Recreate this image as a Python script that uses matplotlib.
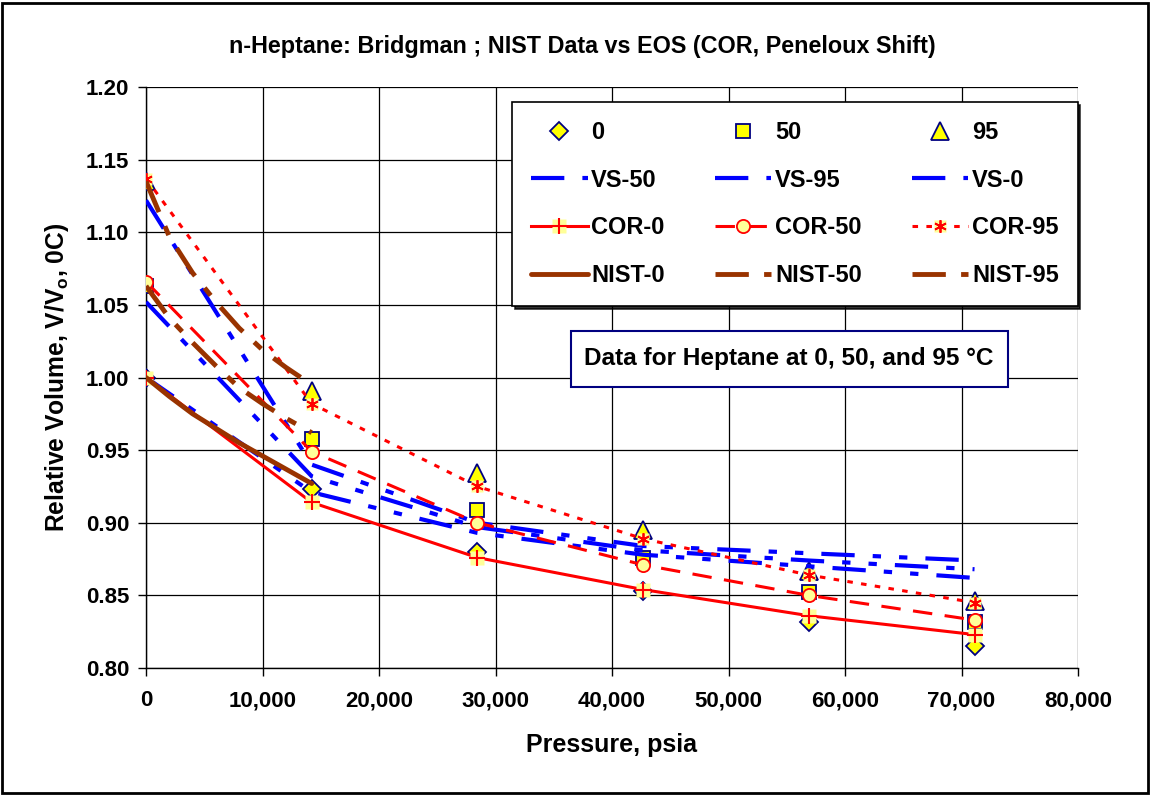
import matplotlib
matplotlib.use('Agg')
import matplotlib.pyplot as plt
from matplotlib.patches import Rectangle
from matplotlib.ticker import FuncFormatter, MultipleLocator
from matplotlib.legend_handler import HandlerTuple

plt.rcParams['font.family'] = ['Liberation Sans', 'DejaVu Sans']
plt.rcParams['font.weight'] = 'bold'
plt.rcParams['lines.scale_dashes'] = False

# ---------------- data ----------------
pressure = [0, 14223, 28447, 42670, 56893, 71117]
data_0 = [1.000, 0.923, 0.880, 0.853, 0.832, 0.815]
data_50 = [1.063, 0.958, 0.909, 0.876, 0.852, 0.832]
data_95 = [1.135, 0.991, 0.934, 0.895, 0.867, 0.846]
vs_0 = [1.000, 0.921, 0.893, 0.878, 0.870, 0.862]
vs_50 = [1.052, 0.932, 0.897, 0.881, 0.874, 0.868]
vs_95 = [1.122, 0.940, 0.900, 0.884, 0.879, 0.874]
cor_0 = [1.000, 0.914, 0.876, 0.854, 0.836, 0.823]
cor_50 = [1.066, 0.949, 0.900, 0.871, 0.850, 0.833]
cor_95 = [1.137, 0.982, 0.925, 0.889, 0.864, 0.845]
nist_pressure = [0, 2000, 4000, 6000, 8000, 10000, 12000, 14223]
nist_0 = [1.000, 0.987, 0.975, 0.965, 0.955, 0.946, 0.937, 0.927]
nist_50 = [1.063, 1.041, 1.024, 1.008, 0.993, 0.982, 0.972, 0.962]
nist_95 = [1.135, 1.097, 1.072, 1.052, 1.034, 1.019, 1.007, 0.995]

title = 'n-Heptane: Bridgman ; NIST Data vs EOS (COR, Peneloux Shift)'
xlabel = 'Pressure, psia'
ylabel = r'Relative Volume, V/V$_\mathregular{o}$, 0C)'
note = 'Data for Heptane at 0, 50, and 95 \u00b0C'

# ---------------- styles ----------------
YEL = '#FFFF00'
NAVY = '#000080'
LYEL = '#FFFF99'
RED = '#FF0000'
BLUE = '#0000FF'
BROWN = '#993300'
vs_dash = (0, (24, 13, 6, 13, 6, 13))
nist_dash = (0, (24, 11, 7, 11))
cor50_dash = (0, (14, 9))
cor95_dash = (0, (4, 6))

W, H = 1151, 795
fig = plt.figure(figsize=(W / 100, H / 100), dpi=100)
ax = fig.add_axes([146 / W, 1 - 668 / H, (1078 - 146) / W, (668 - 87) / H])

# data markers
h_d0, = ax.plot(pressure, data_0, ls='none', marker='D', ms=9, mfc=YEL, mec=NAVY, mew=1.3, zorder=3)
h_d50, = ax.plot(pressure, data_50, ls='none', marker='s', ms=10.5, mfc=YEL, mec=NAVY, mew=1.3, zorder=3)
h_d95, = ax.plot(pressure, data_95, ls='none', marker='^', ms=12.5, mfc=YEL, mec=NAVY, mew=1.3, zorder=3)

# VS lines
h_vs50, = ax.plot(pressure, vs_50, color=BLUE, lw=3.0, ls=vs_dash, zorder=4)
h_vs95, = ax.plot(pressure, vs_95, color=BLUE, lw=3.0, ls=vs_dash, zorder=4)
h_vs0, = ax.plot(pressure, vs_0, color=BLUE, lw=3.0, ls=vs_dash, zorder=4)

# COR lines
h_c0l, = ax.plot(pressure, cor_0, color=RED, lw=2.2, zorder=5)
h_c0b, = ax.plot(pressure, cor_0, ls='none', marker='s', ms=10, mfc=LYEL, mec='none', zorder=5)
h_c0m, = ax.plot(pressure, cor_0, ls='none', marker='+', ms=11, mec=RED, mew=1.5, zorder=5)
h_c50, = ax.plot(pressure, cor_50, color=RED, lw=2.2, ls=cor50_dash, marker='o', ms=9.5,
                 mfc=LYEL, mec=RED, mew=1.3, zorder=5)
h_c95l, = ax.plot(pressure, cor_95, color=RED, lw=2.2, ls=cor95_dash, zorder=5)
h_c95b, = ax.plot(pressure, cor_95, ls='none', marker='s', ms=8, mfc=LYEL, mec='none', zorder=5)
h_c95m, = ax.plot(pressure, cor_95, ls='none', marker=(6, 2, 0), ms=9, mec=RED, mew=1.3, zorder=5)

# NIST lines
h_n0, = ax.plot(nist_pressure, nist_0, color=BROWN, lw=3.5, zorder=6, solid_capstyle='round')
h_n50, = ax.plot(nist_pressure, nist_50, color=BROWN, lw=3.5, ls=nist_dash, zorder=6)
h_n95, = ax.plot(nist_pressure, nist_95, color=BROWN, lw=3.5, ls=nist_dash, zorder=6)

# axes
ax.set_xlim(0, 80000)
ax.set_ylim(0.80, 1.20)
ax.xaxis.set_major_locator(MultipleLocator(10000))
ax.yaxis.set_major_locator(MultipleLocator(0.05))
ax.xaxis.set_major_formatter(FuncFormatter(lambda v, p: f'{v:,.0f}'))
ax.yaxis.set_major_formatter(FuncFormatter(lambda v, p: f'{v:.2f}'))
ax.grid(True, color='black', lw=0.9)
ax.set_axisbelow(True)
for s in ['top', 'right']:
    ax.spines[s].set_visible(False)
ax.spines['left'].set_linewidth(1.0)
ax.spines['bottom'].set_linewidth(1.0)
ax.tick_params(direction='out', length=6, width=1, labelsize=16)
ax.tick_params(axis='x', pad=10)
ax.tick_params(axis='y', pad=6)
for lab in ax.get_xticklabels() + ax.get_yticklabels():
    lab.set_fontweight('bold')
ax.set_xlabel(xlabel, fontsize=18, fontweight='bold', labelpad=16)
ax.set_ylabel(ylabel, fontsize=17.7, fontweight='bold', labelpad=11)

fig.text(582 / W, 1 - 47 / H, title, ha='center', va='center', fontsize=16.8, fontweight='bold')

# legend
handles = [h_d0, h_vs50, (h_c0l, h_c0b, h_c0m), h_n0,
           h_d50, h_vs95, h_c50, h_n50,
           h_d95, h_vs0, (h_c95l, h_c95b, h_c95m), h_n95]
labels = ['0', 'VS-50', 'COR-0', 'NIST-0',
          '50', 'VS-95', 'COR-50', 'NIST-50',
          '95', 'VS-0', 'COR-95', 'NIST-95']
leg = fig.legend(handles, labels, ncol=3, loc='upper left',
                 bbox_to_anchor=(512 / W, 1 - 102 / H), bbox_transform=fig.transFigure,
                 borderaxespad=0,
                 fontsize=17, frameon=True, fancybox=False, edgecolor='black',
                 framealpha=1, shadow={'color': 'black', 'alpha': 0.8},
                 handlelength=2.4, handletextpad=0.15, columnspacing=2.12,
                 labelspacing=1.05, borderpad=0.8,
                 handler_map={tuple: HandlerTuple(ndivide=1)})
leg.get_frame().set_linewidth(1.2)
leg.set_zorder(10)

# note box
fig.patches.append(Rectangle((571 / W, 1 - 387 / H), (1008 - 571) / W, (387 - 331) / H,
                             transform=fig.transFigure, facecolor='white', edgecolor=NAVY,
                             lw=1.5, zorder=9))
fig.text(789 / W, 1 - 359 / H, note, ha='center', va='center', fontsize=17.6, fontweight='bold', zorder=11)

# outer frame
fig.patches.append(Rectangle((2 / W, 2 / H), (W - 5) / W, (H - 5) / H, transform=fig.transFigure,
                             fill=False, edgecolor='black', lw=2.0))

fig.savefig('out.png', dpi=100)
